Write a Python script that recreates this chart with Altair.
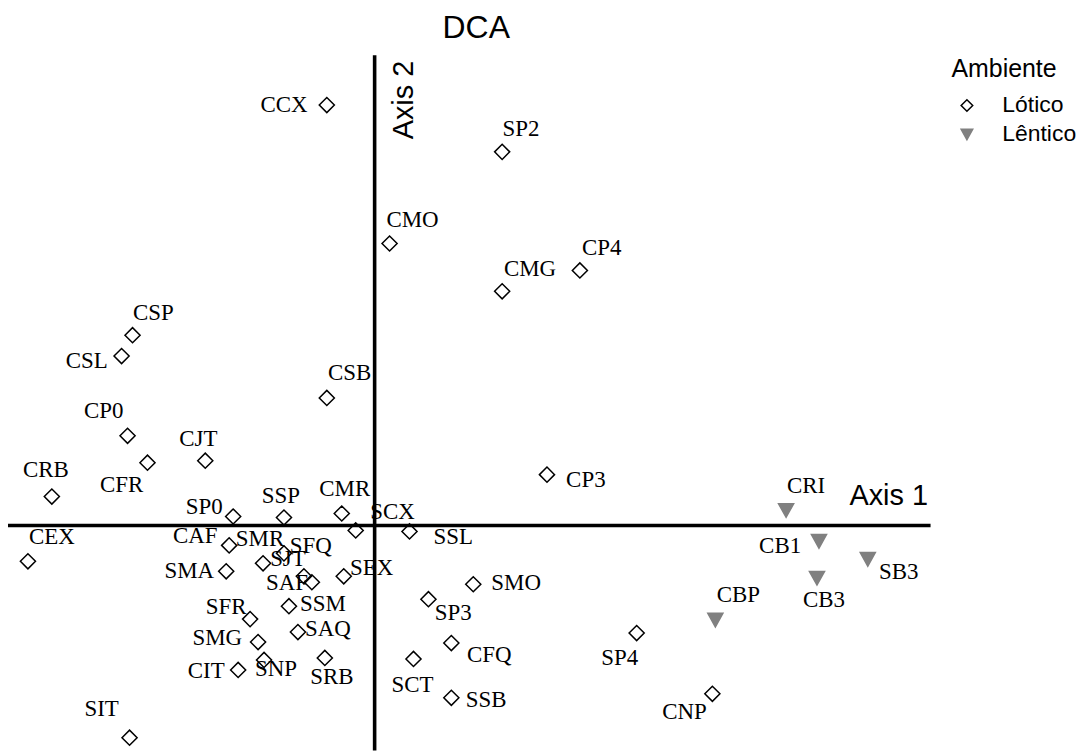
import altair as alt
import pandas as pd

# site codes
names = ["CCX", "SP2", "CMO", "CP4", "CMG", "CSP", "CSL", "CSB", "CP0", "CJT",
         "CFR", "CRB", "CP3", "SP0", "SSP", "CMR", "SCX", "SSL", "CEX", "CAF",
         "SMR", "SFQ", "SJT", "SAF", "SMA", "SEX", "SSM", "SFR", "SAQ", "SMG",
         "SNP", "CIT", "SRB", "SCT", "SMO", "SP3", "CFQ", "SSB", "SP4", "CNP",
         "SIT", "CRI", "CB1", "SB3", "CB3", "CBP"]
# environment
ambiente = ["Lótico"] * 41 + ["Lêntico"] * 5
# DCA axis 1 scores
axis1 = [-0.48, 1.28, 0.15, 2.06, 1.28, -2.43, -2.54, -0.48, -2.48, -1.70,
         -2.28, -3.24, 1.73, -1.42, -0.91, -0.33, -0.19, 0.35, -3.48, -1.46,
         -1.12, -0.91, -0.71, -0.63, -1.49, -0.31, -0.86, -1.25, -0.77, -1.17,
         -1.11, -1.37, -0.50, 0.39, 0.99, 0.54, 0.77, 0.77, 2.63, 3.39,
         -2.46, 4.13, 4.46, 4.95, 4.44, 3.42]
# DCA axis 2 scores
axis2 = [4.22, 3.75, 2.83, 2.56, 2.35, 1.91, 1.70, 1.28, 0.90, 0.65,
         0.63, 0.29, 0.51, 0.09, 0.08, 0.12, -0.05, -0.06, -0.36, -0.20,
         -0.38, -0.28, -0.51, -0.57, -0.46, -0.51, -0.81, -0.94, -1.07, -1.17,
         -1.35, -1.45, -1.33, -1.34, -0.59, -0.74, -1.18, -1.73, -1.08, -1.69,
         -2.13, 0.15, -0.16, -0.34, -0.53, -0.95]
# label anchor positions (same units)
label_x = [-0.91, 1.47, 0.38, 2.28, 1.56, -2.22, -2.89, -0.25, -2.72, -1.77,
           -2.54, -3.30, 2.12, -1.71, -0.94, -0.30, 0.18, 0.79, -3.24, -1.80,
           -1.15, -0.64, -0.87, -0.88, -1.86, -0.03, -0.52, -1.49, -0.47, -1.58,
           -0.99, -1.69, -0.43, 0.38, 1.42, 0.79, 1.15, 1.12, 2.46, 3.11,
           -2.74, 4.33, 4.07, 5.26, 4.51, 3.65]
label_y = [4.22, 3.98, 3.07, 2.78, 2.57, 2.13, 1.65, 1.53, 1.15, 0.87,
           0.41, 0.56, 0.46, 0.19, 0.30, 0.37, 0.13, -0.12, -0.12, -0.11,
           -0.14, -0.21, -0.34, -0.58, -0.46, -0.43, -0.79, -0.82, -1.04, -1.13,
           -1.44, -1.46, -1.52, -1.60, -0.58, -0.88, -1.30, -1.75, -1.33, -1.87,
           -1.84, 0.40, -0.21, -0.47, -0.75, -0.70]

# frame of the plot (data units)
x_domain = [-3.68, 7.08]
y_domain = [-2.26, 5.18]
W, H = 1076, 744

sites = pd.DataFrame({"site": names, "amb": ambiente, "ax1": axis1, "ax2": axis2,
                      "lx": label_x, "ly": label_y})

xs = alt.Scale(domain=x_domain, nice=False, zero=False)
ys = alt.Scale(domain=y_domain, nice=False, zero=False)

TRI = "M-1,-0.9L1,-0.9L0,0.9Z"
dom = ["Lótico", "Lêntico"]
leg = alt.Legend(title="Ambiente", orient="none", legendX=947, legendY=48,
                 padding=0, titleFont="Liberation Sans", titleFontSize=25,
                 titleFontWeight="normal", titleColor="black", titlePadding=12,
                 labelFont="Liberation Sans", labelFontSize=23, labelColor="black",
                 symbolOffset=4, labelOffset=24, symbolSize=135, symbolStrokeWidth=1.5,
                 rowPadding=5, titleBaseline="top")

# axis lines
hline = alt.Chart(pd.DataFrame({"x": [x_domain[0]], "x2": [5.58], "y": [0.0]})).mark_rule(
    color="black", strokeWidth=3.6).encode(
    x=alt.X("x:Q", scale=xs, axis=None), x2="x2:Q", y=alt.Y("y:Q", scale=ys, axis=None))
vline = alt.Chart(pd.DataFrame({"x": [0.0], "y": [y_domain[0]], "y2": [4.72]})).mark_rule(
    color="black", strokeWidth=3.6).encode(
    x=alt.X("x:Q", scale=xs, axis=None), y=alt.Y("y:Q", scale=ys, axis=None), y2="y2:Q")

points = alt.Chart(sites).mark_point(filled=True, size=230, strokeWidth=1.5, opacity=1).encode(
    x=alt.X("ax1:Q", scale=xs, axis=None),
    y=alt.Y("ax2:Q", scale=ys, axis=None),
    shape=alt.Shape("amb:N", scale=alt.Scale(domain=dom, range=["diamond", TRI]), legend=leg),
    fill=alt.Fill("amb:N", scale=alt.Scale(domain=dom, range=["transparent", "#808080"]), legend=leg),
    stroke=alt.Stroke("amb:N", scale=alt.Scale(domain=dom, range=["black", "#808080"]), legend=leg),
)

labels = alt.Chart(sites).mark_text(font="Liberation Serif", fontSize=23, color="black",
                                    align="center", baseline="middle").encode(
    x=alt.X("lx:Q", scale=xs, axis=None), y=alt.Y("ly:Q", scale=ys, axis=None), text="site:N")

annot = pd.DataFrame({"t": ["DCA", "Axis 1"], "x": [1.02, 5.16], "y": [4.99, 0.30],
                      "size": [32, 29]})
ann = alt.Chart(annot).mark_text(font="Liberation Sans", color="black", align="center",
                                  baseline="middle").encode(
    x=alt.X("x:Q", scale=xs, axis=None), y=alt.Y("y:Q", scale=ys, axis=None),
    text="t:N", size=alt.Size("size:Q", scale=None, legend=None))
ax2lab = alt.Chart(pd.DataFrame({"t": ["Axis 2"], "x": [0.30], "y": [4.27]})).mark_text(
    font="Liberation Sans", fontSize=29, color="black", align="center", baseline="middle",
    angle=270).encode(
    x=alt.X("x:Q", scale=xs, axis=None), y=alt.Y("y:Q", scale=ys, axis=None), text="t:N")

chart = alt.layer(hline, vline, points, labels, ann, ax2lab).properties(
    width=W, height=H, padding=0, autosize=alt.AutoSizeParams(type="none")
).configure_view(strokeWidth=0)

chart.save("out.html", embed_options={"renderer": "svg", "actions": False})
